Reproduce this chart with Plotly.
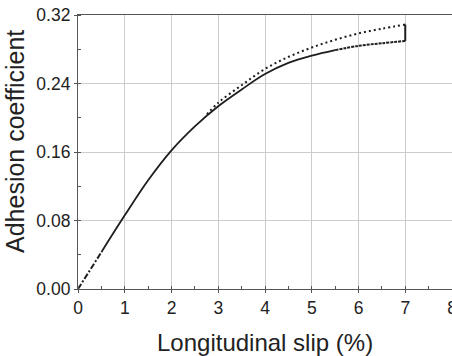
import plotly.graph_objects as go

# Loading branch (lower curve), slip in %, adhesion coefficient
slip_loading = [0, 0.5, 1.0, 1.5, 2.0, 2.5, 3.0, 3.5, 4.0, 4.5, 5.0, 5.5, 6.0, 6.5, 7.0]
adh_loading = [0, 0.043, 0.086, 0.127, 0.162, 0.190, 0.2135, 0.233, 0.251, 0.264,
               0.2725, 0.279, 0.284, 0.287, 0.2897]

# Unloading branch (upper curve)
slip_unloading = [7.0, 6.5, 6.0, 5.5, 5.0, 4.5, 4.0, 3.5, 3.0, 2.72]
adh_unloading = [0.3088, 0.304, 0.2985, 0.291, 0.282, 0.271, 0.257, 0.238, 0.2175, 0.2015]

x_ticks = [0, 1, 2, 3, 4, 5, 6, 7, 8]
y_ticks = [0.00, 0.08, 0.16, 0.24, 0.32]

CURVE = "#1e1e1e"
FONT = "Liberation Sans, Arial, sans-serif"

fig = go.Figure()

n0 = 1   # dash-dot up to 0.5
n1 = 11  # solid up to 5.5
fig.add_trace(go.Scatter(x=slip_loading[:n0 + 1], y=adh_loading[:n0 + 1], mode="lines",
                         line=dict(color=CURVE, width=2, dash="6px,2px,2px,2px"),
                         showlegend=False, hoverinfo="skip"))
fig.add_trace(go.Scatter(x=slip_loading[n0:n1 + 1], y=adh_loading[n0:n1 + 1], mode="lines",
                         line=dict(color=CURVE, width=1.8, shape="spline", smoothing=1),
                         showlegend=False, hoverinfo="skip"))
fig.add_trace(go.Scatter(x=slip_loading[n1:], y=adh_loading[n1:], mode="lines",
                         line=dict(color=CURVE, width=2, dash="3px,1px", shape="spline"),
                         showlegend=False, hoverinfo="skip"))
# vertical jump at the end
fig.add_trace(go.Scatter(x=[slip_loading[-1], slip_unloading[0]],
                         y=[adh_loading[-1], adh_unloading[0]], mode="lines",
                         line=dict(color=CURVE, width=2),
                         showlegend=False, hoverinfo="skip"))
# upper curve, dotted
fig.add_trace(go.Scatter(x=slip_unloading, y=adh_unloading, mode="lines",
                         line=dict(color=CURVE, width=2, dash="2px,3px", shape="spline"),
                         showlegend=False, hoverinfo="skip"))

axis_common = dict(
    showline=True, mirror=True, linecolor="#555555", linewidth=1.2,
    showgrid=True, gridcolor="#cccccc", gridwidth=1,
    zeroline=False, automargin=False, ticklabeloverflow="allow",
    ticks="outside", ticklen=3, tickcolor="#555555", tickwidth=1,
    tickfont=dict(family=FONT, size=17.5, color="#222222"),
)

fig.update_xaxes(range=[0, 8], tickvals=x_ticks, ticktext=[str(v) for v in x_ticks],
                 minor=dict(dtick=0.5, ticks="inside", ticklen=3, tickcolor="#555555",
                            showgrid=False),
                 **axis_common)
fig.update_yaxes(range=[0, 0.32], tickvals=y_ticks, ticktext=[f"{v:.2f}" for v in y_ticks],
                 minor=dict(dtick=0.04, ticks="inside", ticklen=3, tickcolor="#555555",
                            showgrid=False),
                 **axis_common)

fig.add_annotation(text="Longitudinal slip (%)", xref="paper", yref="paper",
                   x=0.5, y=-0.14, xanchor="center", yanchor="top", showarrow=False,
                   font=dict(family=FONT, size=24, color="#222222"))
fig.add_annotation(text="Adhesion coefficient", xref="paper", yref="paper",
                   x=-0.170, y=0.538, xanchor="center", yanchor="middle", textangle=-90,
                   showarrow=False, font=dict(family=FONT, size=25, color="#222222"))

fig.update_layout(
    width=452, height=356,
    margin=dict(l=78, r=0, t=15, b=67),
    paper_bgcolor="white", plot_bgcolor="white",
    showlegend=False,
)

fig.write_html("out.html", config={"displayModeBar": False},
               post_script="document.body.style.margin='0';document.body.style.overflow='hidden';")
